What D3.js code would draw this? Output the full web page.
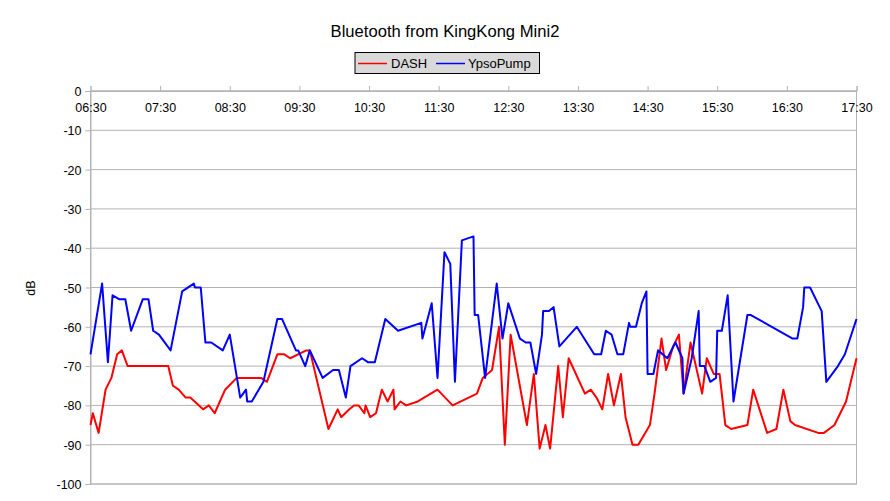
<!DOCTYPE html>
<html><head><meta charset="utf-8">
<script src="https://cdn.jsdelivr.net/npm/d3@7"></script>
<style>body{margin:0;background:#fff;}svg{display:block;font-family:"Liberation Sans",Arial,sans-serif;}</style>
</head><body>
<svg id="c" width="890" height="501"></svg>
<script>
const seriesNames = ["DASH", "YpsoPump"];
const seriesColors = ["#ff0000", "#0000ff"];
const timeTicks = ["06:30","07:30","08:30","09:30","10:30","11:30","12:30","13:30","14:30","15:30","16:30","17:30"];
const yTicks = [0,-10,-20,-30,-40,-50,-60,-70,-80,-90,-100];

const dashTimes = ["06:30","06:32","06:37","06:43","06:48","06:53","06:57","07:02","07:37","07:41","07:46","07:52","07:56","08:07","08:12","08:17","08:26","08:36","08:57","09:02","09:11","09:17","09:22","09:36","09:39","09:55","10:03","10:06","10:13","10:17","10:21","10:26","10:27","10:31","10:36","10:41","10:46","10:51","10:52","10:57","11:02","11:12","11:29","11:42","12:03","12:08","12:16","12:22","12:27","12:32","12:46","12:52","12:57","13:02","13:06","13:13","13:17","13:22","13:36","13:41","13:46","13:51","13:56","14:01","14:07","14:11","14:17","14:22","14:32","14:36","14:42","14:46","14:52","14:57","15:01","15:07","15:17","15:21","15:27","15:32","15:37","15:42","15:56","16:01","16:13","16:21","16:27","16:33","16:37","16:57","17:02","17:11","17:21","17:30"];
const dashValues = [-85,-82,-87,-76,-73,-67,-66,-70,-70,-75,-76,-78,-78,-81,-80,-82,-76,-73,-73,-74,-67,-67,-68,-66,-66,-86,-81,-83,-81,-80,-80,-82,-80,-83,-82,-76,-79,-76,-81,-79,-80,-79,-76,-80,-77,-73,-71,-60,-90,-62,-85,-72,-91,-85,-91,-70,-83,-68,-77,-76,-78,-81,-72,-80,-72,-83,-90,-90,-85,-77,-63,-71,-65,-62,-77,-64,-77,-68,-72,-72,-85,-86,-85,-76,-87,-86,-76,-84,-85,-87,-87,-85,-79,-68];

const ypsoTimes = ["06:30","06:40","06:45","06:49","06:55","07:00","07:05","07:15","07:20","07:24","07:29","07:39","07:49","07:59","08:00","08:05","08:09","08:14","08:24","08:30","08:39","08:44","08:45","08:49","08:59","09:11","09:15","09:27","09:29","09:35","09:39","09:50","09:59","10:04","10:10","10:14","10:24","10:29","10:35","10:44","10:55","11:15","11:16","11:24","11:29","11:35","11:40","11:44","11:50","12:00","12:01","12:04","12:10","12:20","12:25","12:30","12:40","12:45","12:49","12:54","12:59","13:00","13:05","13:09","13:14","13:29","13:44","13:50","13:54","13:59","14:04","14:09","14:14","14:15","14:20","14:25","14:29","14:30","14:35","14:39","14:47","14:54","15:00","15:01","15:08","15:14","15:15","15:19","15:24","15:29","15:30","15:34","15:39","15:44","15:56","15:59","16:35","16:39","16:44","16:45","16:50","17:00","17:04","17:14","17:20","17:30"];
const ypsoValues = [-67,-49,-69,-52,-53,-53,-61,-53,-53,-61,-62,-66,-51,-49,-50,-50,-64,-64,-66,-62,-78,-76,-79,-79,-74,-58,-58,-66,-66,-70,-66,-73,-71,-71,-78,-70,-68,-69,-69,-58,-61,-59,-63,-54,-73,-41,-44,-74,-38,-37,-57,-57,-73,-49,-63,-54,-63,-64,-64,-72,-62,-56,-56,-55,-65,-60,-67,-67,-61,-62,-67,-67,-59,-60,-60,-54,-51,-72,-72,-66,-68,-64,-68,-77,-68,-56,-70,-70,-74,-73,-61,-61,-52,-79,-57,-57,-63,-63,-55,-50,-50,-56,-74,-70,-67,-58];

const toMin = s => { const [h,m] = s.split(":").map(Number); return h*60+m; };
const series = [
  {name: seriesNames[0], color: seriesColors[0], pts: dashTimes.map((t,i)=>[toMin(t), dashValues[i]])},
  {name: seriesNames[1], color: seriesColors[1], pts: ypsoTimes.map((t,i)=>[toMin(t), ypsoValues[i]])}
];

const svg = d3.select("#c");
const L = 90.5, R = 856.5, T = 91, B = 484;
const x = d3.scaleLinear().domain([toMin(timeTicks[0]), toMin(timeTicks[timeTicks.length-1])]).range([L, R]);
const y = d3.scaleLinear().domain([-100, 0]).range([B, T]);

// gridlines
svg.append("g").selectAll("line").data(yTicks).join("line")
  .attr("x1", L).attr("x2", R).attr("y1", d=>y(d)).attr("y2", d=>y(d))
  .attr("stroke", "#b3b3b3").attr("stroke-width", 1);
// frame
svg.append("rect").attr("x", L).attr("y", T).attr("width", R-L).attr("height", B-T)
  .attr("fill", "none").attr("stroke", "#b3b3b3").attr("stroke-width", 1);

// y axis
const yAxis = d3.axisLeft(y).tickValues(yTicks).tickSize(5).tickPadding(4).tickFormat(d3.format("d"));
const gy = svg.append("g").attr("transform", `translate(${L},0)`).call(yAxis);
gy.select(".domain").attr("stroke", "#b3b3b3");
gy.selectAll(".tick line").attr("stroke", "#b3b3b3");
gy.selectAll(".tick text").attr("font-size", 12.5).attr("fill", "#000").attr("font-family", "Liberation Sans, Arial, sans-serif").attr("dy", "0.36em");
gy.selectAll(".tick text").text(d => d === 0 ? "0" : String(d));

// x axis at top (ticks upward, labels below line)
const xAxis = d3.axisTop(x).tickValues(timeTicks.map(toMin)).tickSize(5).tickFormat((d,i)=>timeTicks[i]);
const gx = svg.append("g").attr("transform", `translate(0,${T})`).call(xAxis);
gx.select(".domain").attr("stroke", "#b3b3b3");
gx.selectAll(".tick line").attr("stroke", "#b3b3b3");
gx.selectAll(".tick text").attr("font-size", 12.5).attr("fill", "#000").attr("font-family", "Liberation Sans, Arial, sans-serif")
  .attr("y", 21).attr("dy", 0);

// lines
const line = d3.line().x(d=>x(d[0])).y(d=>y(d[1]));
svg.append("g").selectAll("path").data(series).join("path")
  .attr("d", d=>line(d.pts)).attr("fill", "none").attr("stroke", d=>d.color)
  .attr("stroke-width", 2).attr("stroke-linejoin", "round");

// title
svg.append("text").attr("x", 445).attr("y", 37).attr("text-anchor", "middle")
  .attr("font-size", 16.6).attr("fill", "#000").text("Bluetooth from KingKong Mini2");

// y label
svg.append("text").attr("transform", "translate(35,288) rotate(-90)").attr("text-anchor", "middle")
  .attr("font-size", 12.5).attr("fill", "#000").text("dB");

// legend
const lg = svg.append("g");
lg.append("rect").attr("x", 355).attr("y", 52.5).attr("width", 184.5).attr("height", 21)
  .attr("fill", "#d9d9d9").attr("stroke", "#000").attr("stroke-width", 1);
const legItems = [{x: 358, tx: 391}, {x: 436, tx: 468}];
series.forEach((s,i) => {
  lg.append("line").attr("x1", legItems[i].x).attr("x2", legItems[i].x+29).attr("y1", 63.5).attr("y2", 63.5)
    .attr("stroke", s.color).attr("stroke-width", 1.5);
  lg.append("text").attr("x", legItems[i].tx).attr("y", 68).attr("font-size", 13).attr("fill", "#000").text(s.name);
});
</script>
</body></html>
